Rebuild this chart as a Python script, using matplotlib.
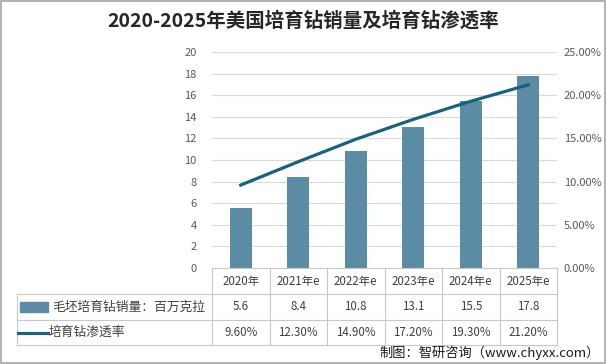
import matplotlib
matplotlib.use("Agg")
import matplotlib.pyplot as plt
from matplotlib.patches import Rectangle
from matplotlib.lines import Line2D

plt.rcParams['font.family'] = ['Noto Sans CJK SC', 'DejaVu Sans']

categories = ["2020年", "2021年e", "2022年e", "2023年e", "2024年e", "2025年e"]
sales = [5.6, 8.4, 10.8, 13.1, 15.5, 17.8]
penetration = [9.6, 12.3, 14.9, 17.2, 19.3, 21.2]
sales_labels = ["5.6", "8.4", "10.8", "13.1", "15.5", "17.8"]
pen_labels = ["9.60%", "12.30%", "14.90%", "17.20%", "19.30%", "21.20%"]
series_names = ["毛坯培育钻销量：百万克拉", "培育钻渗透率"]
title = "2020-2025年美国培育钻销量及培育钻渗透率"
source = "制图：智研咨询（www.chyxx.com）"

W, H = 606, 364
bar_color = "#5b8ca4"
line_color = "#17637d"
grid_color = "#d9d9d9"
tick_color = "#595959"
table_color = "#c8c8c8"

fig = plt.figure(figsize=(W / 100, H / 100), dpi=100)
fig.patch.set_facecolor("white")

def fx(px):
    return px / W

def fy(py):
    return 1 - py / H

left, right, top, bottom = 212, 557, 52, 268
ax = fig.add_axes([fx(left), fy(bottom), fx(right - left), (bottom - top) / H])
x = list(range(len(categories)))
ax.bar(x, sales, width=0.39, color=bar_color, zorder=2)
ax.set_xlim(-0.5, len(categories) - 0.5)
ax.set_ylim(0, 20)
ax.set_yticks(range(0, 21, 2))
ax.grid(axis="y", color=grid_color, linewidth=0.8, zorder=0)
ax.set_xticks([])
for s in ax.spines.values():
    s.set_visible(False)
ax.tick_params(axis="y", length=0, labelsize=8, labelcolor=tick_color, pad=11)

ax2 = ax.twinx()
ax2.plot(x, penetration, color=line_color, linewidth=2.3, zorder=3)
ax2.set_ylim(0, 25)
ax2.set_yticks(range(0, 26, 5))
ax2.set_yticklabels([f"{v:.2f}%" for v in range(0, 26, 5)])
for s in ax2.spines.values():
    s.set_visible(False)
ax2.tick_params(axis="y", length=0, labelsize=8, labelcolor=tick_color, pad=5)

# Title
fig.text(0.5, fy(21), title, ha="center", va="center", fontsize=14,
         fontweight="bold", color="#262626")

# Data table
col_w = (right - left) / len(categories)
row_y = [268, 294, 320, 345]
lw = 0.8
def hline(x0, x1, y):
    fig.add_artist(Line2D([fx(x0), fx(x1)], [fy(y), fy(y)], color=table_color, lw=lw))
def vline(xp, y0, y1):
    fig.add_artist(Line2D([fx(xp), fx(xp)], [fy(y0), fy(y1)], color=table_color, lw=lw))

hline(left, right, row_y[0])
hline(17, right, row_y[1])
hline(17, right, row_y[2])
hline(17, right, row_y[3])
for i in range(len(categories) + 1):
    vline(left + i * col_w, row_y[0], row_y[3])
vline(17, row_y[1], row_y[3])

tfs = 8.3
for i, c in enumerate(categories):
    cx = fx(left + (i + 0.5) * col_w)
    fig.text(cx, fy((row_y[0] + row_y[1]) / 2), c, ha="center", va="center",
             fontsize=tfs, color="#404040")
    fig.text(cx, fy((row_y[1] + row_y[2]) / 2), sales_labels[i], ha="center",
             va="center", fontsize=tfs, color="#404040")
    fig.text(cx, fy((row_y[2] + row_y[3]) / 2), pen_labels[i], ha="center",
             va="center", fontsize=tfs, color="#404040")

# Legend keys
ym1 = (row_y[1] + row_y[2]) / 2
fig.add_artist(Rectangle((fx(20), fy(ym1 + 5)), fx(28), 10 / H, color=bar_color))
fig.text(fx(52), fy(ym1), series_names[0], ha="left", va="center", fontsize=9.2,
         color="#404040")
ym2 = (row_y[2] + row_y[3]) / 2
fig.add_artist(Line2D([fx(18), fx(48)], [fy(ym2), fy(ym2)], color=line_color, lw=2.3))
fig.text(fx(49), fy(ym2), series_names[1], ha="left", va="center", fontsize=9.2,
         color="#404040")

# Source
fig.text(fx(600), fy(353), source, ha="right", va="center", fontsize=9.5, color="#1a1a1a")

# Outer border
fig.add_artist(Rectangle((0.0015, 0.0025), 0.997, 0.995, fill=False,
                         edgecolor="#a6a6a6", lw=1.2))

fig.savefig("out.png", dpi=100)
